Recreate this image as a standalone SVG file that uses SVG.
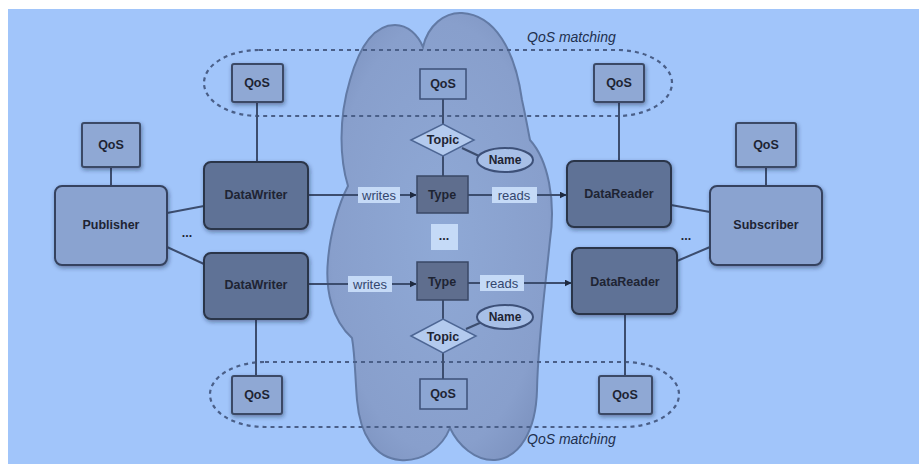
<svg xmlns="http://www.w3.org/2000/svg" width="919" height="464" viewBox="0 0 919 464">
<defs>
<filter id="sh" x="-20%" y="-20%" width="150%" height="150%">
<feDropShadow dx="1" dy="2" stdDeviation="2" flood-color="#1c2840" flood-opacity="0.45"/>
</filter>
<radialGradient id="cg" cx="50%" cy="50%" r="60%">
<stop offset="0" stop-color="#8fa9d6"/>
<stop offset="0.8" stop-color="#889fcc"/>
<stop offset="1" stop-color="#7d93c0"/>
</radialGradient>
<marker id="ar" viewBox="0 0 10 10" refX="9" refY="5" markerWidth="7" markerHeight="7" markerUnits="userSpaceOnUse" orient="auto">
<path d="M0 0 L10 5 L0 10 Z" fill="#1f2a40"/>
</marker>
</defs>
<style>
.t{font-family:"Liberation Sans",Arial,sans-serif;font-weight:bold;font-size:12.5px;fill:#1e2433;text-anchor:middle;dominant-baseline:central}
.lb{font-family:"Liberation Sans",Arial,sans-serif;font-size:13px;fill:#33466e;text-anchor:middle;dominant-baseline:central}
.it{font-family:"Liberation Sans",Arial,sans-serif;font-style:italic;font-size:14px;fill:#22304e}
.qo{fill:#8fa8d4;stroke:#3b4a66;stroke-width:2}
.qi{fill:#8ca6d3;stroke:#3d5078;stroke-width:1.5}
.ps{fill:#8aa3d0;stroke:#34425e;stroke-width:2}
.dw{fill:#5f7296;stroke:#2b3448;stroke-width:2}
.ty{fill:#5f6e8e;stroke:#3a4866;stroke-width:1.5}
.tp{fill:#b3caee;stroke:#4d6694;stroke-width:1.5}
.nm{fill:#a7bfe7;stroke:#3d5078;stroke-width:2}
.lab{fill:#c5daf7}
.ln{stroke:#3c4d6e;stroke-width:2;fill:none}
.ds{fill:none;stroke:#4a5f88;stroke-width:2.2;stroke-dasharray:4 4}
</style>
<rect x="0" y="0" width="919" height="464" fill="#ffffff"/>
<rect x="8" y="9" width="911" height="455" fill="#a1c5fa"/>

<path id="cloud" d="M423 47 C428 25 445 12 462 13 C495 15 515 50 522 100 C526 118 528 130 530 140 C548 160 556 200 550 240 C545 290 538 340 537 390 C536 430 520 458 495 460 C475 461 458 445 450 428 C442 448 422 462 400 460 C375 458 360 435 357 400 C355 375 355 355 352 338 C332 320 325 290 328 260 C330 235 338 205 348 186 C340 160 338 120 350 80 C360 45 375 25 395 25 C408 25 418 35 423 47 Z" fill="url(#cg)" stroke="#627aa5" stroke-width="2"/>

<rect class="ds" x="204" y="50" width="468" height="66" rx="55" ry="33"/>
<rect class="ds" x="210" y="362" width="469" height="65" rx="55" ry="32.5"/>
<text class="it" x="527" y="42">QoS matching</text>
<text class="it" x="527" y="444">QoS matching</text>

<g id="connectors">
<line class="ln" x1="111" y1="167" x2="111" y2="186"/>
<line class="ln" x1="766" y1="167" x2="766" y2="186"/>
<line class="ln" x1="257" y1="102" x2="257" y2="162"/>
<line class="ln" x1="256" y1="319" x2="256" y2="376"/>
<line class="ln" x1="619" y1="102" x2="619" y2="161"/>
<line class="ln" x1="625" y1="314" x2="625" y2="376"/>
<line class="ln" x1="167" y1="213" x2="204" y2="206"/>
<line class="ln" x1="167" y1="247" x2="204" y2="264"/>
<line class="ln" x1="671" y1="205" x2="710" y2="212"/>
<line class="ln" x1="677" y1="261" x2="710" y2="247"/>
<line class="ln" x1="443" y1="99" x2="443" y2="124"/>
<line class="ln" x1="443" y1="156" x2="443" y2="176"/>
<line class="ln" x1="462" y1="148" x2="479" y2="156"/>
<line class="ln" x1="443" y1="300" x2="443" y2="319"/>
<line class="ln" x1="443" y1="353" x2="443" y2="379"/>
<line class="ln" x1="466" y1="329" x2="482" y2="322"/>
<line class="ln" x1="308" y1="195" x2="358" y2="195"/>
<line class="ln" x1="400" y1="195" x2="416" y2="195" marker-end="url(#ar)"/>
<line class="ln" x1="468" y1="195" x2="492" y2="195"/>
<line class="ln" x1="537" y1="195" x2="566" y2="195" marker-end="url(#ar)"/>
<line class="ln" x1="308" y1="284" x2="348" y2="284"/>
<line class="ln" x1="392" y1="284" x2="416" y2="284" marker-end="url(#ar)"/>
<line class="ln" x1="468" y1="283" x2="480" y2="283"/>
<line class="ln" x1="524" y1="283" x2="571" y2="283" marker-end="url(#ar)"/>
<rect class="lab" x="358" y="187" width="42" height="16"/>
<text class="lb" x="379" y="195">writes</text>
<rect class="lab" x="492" y="187" width="45" height="16"/>
<text class="lb" x="514" y="195">reads</text>
<rect class="lab" x="348" y="276" width="44" height="16"/>
<text class="lb" x="370" y="284">writes</text>
<rect class="lab" x="480" y="275" width="44" height="16"/>
<text class="lb" x="502" y="283">reads</text>
</g>

<g id="pub-qos"><rect class="qo" x="82" y="123" width="58" height="44" rx="2" filter="url(#sh)"/><text class="t" x="111" y="145">QoS</text></g>
<g id="publisher"><rect class="ps" x="55" y="186" width="112" height="79" rx="7" filter="url(#sh)"/><text class="t" x="111" y="225">Publisher</text></g>
<g id="sub-qos"><rect class="qo" x="736" y="123" width="60" height="44" rx="2" filter="url(#sh)"/><text class="t" x="766" y="145">QoS</text></g>
<g id="subscriber"><rect class="ps" x="710" y="186" width="112" height="79" rx="7" filter="url(#sh)"/><text class="t" x="766" y="225">Subscriber</text></g>

<g id="dw1-qos"><rect class="qo" x="232" y="64" width="51" height="38" rx="2" filter="url(#sh)"/><text class="t" x="257" y="83">QoS</text></g>
<g id="dw1"><rect class="dw" x="204" y="162" width="104" height="67" rx="7" filter="url(#sh)"/><text class="t" x="256" y="195">DataWriter</text></g>
<g id="dw2"><rect class="dw" x="204" y="253" width="104" height="66" rx="7" filter="url(#sh)"/><text class="t" x="256" y="285">DataWriter</text></g>
<g id="dw2-qos"><rect class="qo" x="232" y="376" width="50" height="38" rx="2" filter="url(#sh)"/><text class="t" x="257" y="395">QoS</text></g>

<g id="dr1-qos"><rect class="qo" x="594" y="64" width="50" height="38" rx="2" filter="url(#sh)"/><text class="t" x="619" y="83">QoS</text></g>
<g id="dr1"><rect class="dw" x="567" y="161" width="104" height="66" rx="7" filter="url(#sh)"/><text class="t" x="619" y="194">DataReader</text></g>
<g id="dr2"><rect class="dw" x="572" y="248" width="105" height="66" rx="7" filter="url(#sh)"/><text class="t" x="625" y="282">DataReader</text></g>
<g id="dr2-qos"><rect class="qo" x="599" y="376" width="53" height="38" rx="2" filter="url(#sh)"/><text class="t" x="625" y="395">QoS</text></g>

<g id="dots-left"><text class="t" x="187" y="233">...</text></g>
<g id="dots-right"><text class="t" x="686" y="236">...</text></g>

<g id="topic1-qos"><rect class="qi" x="420" y="69" width="46" height="30"/><text class="t" x="443" y="84">QoS</text></g>
<g id="topic1"><polygon class="tp" points="411,140 443,124 474,140 443,156"/><text class="t" x="443" y="140">Topic</text></g>
<g id="name1"><ellipse class="nm" cx="505" cy="160" rx="28" ry="12"/><text class="t" x="505" y="160" style="font-size:12px">Name</text></g>
<g id="type1"><rect class="ty" x="417" y="176" width="51" height="37"/><text class="t" x="442" y="195">Type</text></g>
<g id="dots-mid"><rect class="lab" x="431" y="224" width="27" height="26"/><text class="t" x="444" y="236">...</text></g>
<g id="type2"><rect class="ty" x="417" y="262" width="51" height="38"/><text class="t" x="442" y="282">Type</text></g>
<g id="topic2"><polygon class="tp" points="411,336 443,319 476,336 443,353"/><text class="t" x="443" y="337">Topic</text></g>
<g id="name2"><ellipse class="nm" cx="505" cy="317" rx="28" ry="12"/><text class="t" x="505" y="317" style="font-size:12px">Name</text></g>
<g id="topic2-qos"><rect class="qi" x="420" y="379" width="47" height="30"/><text class="t" x="443" y="394">QoS</text></g>
</svg>
